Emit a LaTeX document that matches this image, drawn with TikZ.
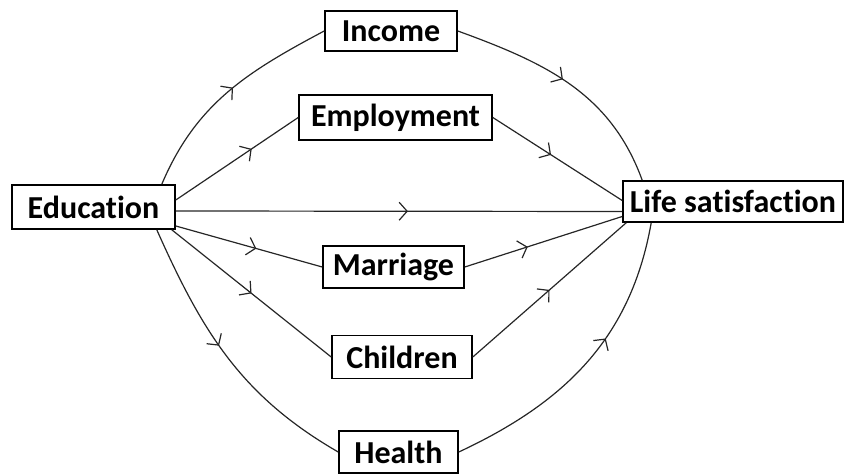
\documentclass[tikz,border=0pt]{standalone}
\usepackage{fontspec}
\setmainfont{Carlito}[Ligatures={NoCommon,NoRequired,NoContextual}]
\usetikzlibrary{arrows.meta,decorations.markings}
\tikzset{
  box/.style={draw=black, line width=1.6pt, fill=white, inner sep=0pt, font=\fontsize{32}{36}\selectfont\bfseries, text=black},
  link/.style={line width=1.2pt, draw=black!85, postaction={decorate}, decoration={markings, mark=at position #1 with {\arrow{Straight Barb[length=8pt,width=18pt,line width=1.2pt]}}}},
}
\begin{document}
\begin{tikzpicture}[x=1pt,y=1pt]
\useasboundingbox (0,0) rectangle (848,476);
\node[box, minimum width=163pt, minimum height=44pt] (edu) at (93.5,269) {Education};
\node[box, minimum width=132pt, minimum height=40pt] (inc) at (391,445) {Income};
\node[box, minimum width=193pt, minimum height=45pt] (emp) at (395.5,358.5) {Employment};
\node[box, minimum width=141pt, minimum height=42pt] (mar) at (393.5,209) {Marriage};
\node[box, minimum width=140pt, minimum height=43pt] (chi) at (402,119) {Children};
\node[box, minimum width=119pt, minimum height=42pt] (hea) at (398.5,24) {Health};
\node[box, minimum width=220pt, minimum height=41pt] (lif) at (733,274.5) {Life satisfaction};

% from Education
\draw[link=0.53] ([xshift=-14pt]edu.north east) to[out=67,in=-152] (inc.west);
\draw[link=0.62] ([yshift=7pt]edu.east) -- (emp.west);
\draw[link=0.52] ([yshift=-4pt]edu.east) -- ([yshift=-10pt]lif.west);
\draw[link=0.55] ([yshift=-19pt]edu.east) -- (mar.west);
\draw[link=0.5] ([xshift=-4pt]edu.south east) -- (chi.west);
\draw[link=0.45] ([xshift=-19pt]edu.south east) to[out=-66,in=150] (hea.west);
% to Life satisfaction
\draw[link=0.47] (inc.east) to[out=-20,in=110] ([xshift=20pt]lif.north west);
\draw[link=0.45] (emp.east) -- ([yshift=1pt]lif.west);
\draw[link=0.4] (mar.east) -- ([yshift=-15pt]lif.west);
\draw[link=0.5] (chi.east) -- ([xshift=4pt]lif.south west);
\draw[link=0.6] (hea.east) to[out=25,in=-100] ([xshift=29pt]lif.south west);
\end{tikzpicture}
\end{document}
